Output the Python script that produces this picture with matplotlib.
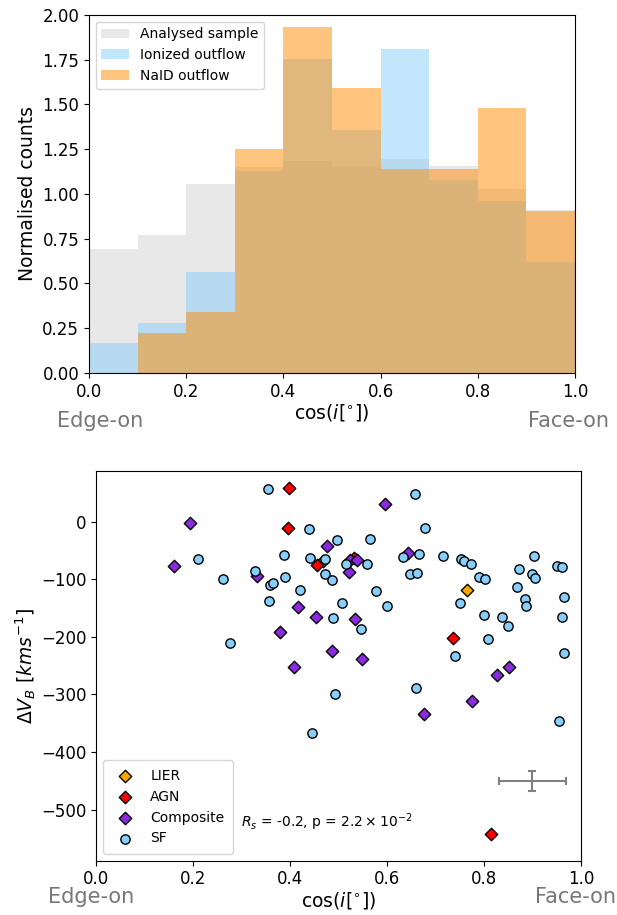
import matplotlib
matplotlib.use("Agg")
import matplotlib.pyplot as plt
from matplotlib.transforms import blended_transform_factory

# --- histogram data (normalised counts per cos(i) bin) ---
BIN_LEFT = [0.0, 0.1, 0.2, 0.3, 0.4, 0.5, 0.6, 0.7, 0.8, 0.9]
BIN_WIDTH = 0.1
SAMPLE_H = [0.69, 0.77, 1.057, 1.148, 1.185, 1.148, 1.196, 1.157, 1.028, 0.91]
IONIZED_H = [0.169, 0.28, 0.563, 1.13, 1.752, 1.357, 1.811, 1.076, 0.963, 0.62]
NAID_H = [0.0, 0.226, 0.341, 1.252, 1.933, 1.591, 1.137, 1.138, 1.481, 0.907]

# --- scatter data: cos(i) vs Delta V_B ---
LIER_X = [0.469, 0.764]
LIER_Y = [-68, -119]

AGN_X = [0.398, 0.396, 0.455, 0.532, 0.736, 0.814]
AGN_Y = [59, -10.5, -76, -63.4, -202, -542]

COMP_X = [0.194, 0.477, 0.161, 0.332, 0.417, 0.453, 0.380, 0.487, 0.595, 0.644,
          0.523, 0.538, 0.522, 0.534, 0.548, 0.409, 0.677, 0.775, 0.826, 0.851]
COMP_Y = [-3, -43, -76.7, -94.7, -149, -165, -192, -224, 31.4, -54,
          -65.7, -65.7, -87.8, -169, -238, -251.6, -334, -311, -266, -251.6]

SF_X = [0.355, 0.439, 0.497, 0.211, 0.387, 0.441, 0.473, 0.328, 0.261, 0.390,
        0.359, 0.365, 0.472, 0.487, 0.420, 0.356, 0.507, 0.488, 0.277, 0.658,
        0.678, 0.565, 0.633, 0.665, 0.716, 0.752, 0.758, 0.773, 0.903, 0.872,
        0.899, 0.905, 0.950, 0.961, 0.965, 0.789, 0.803, 0.868, 0.885, 0.887,
        0.750, 0.577, 0.600, 0.547, 0.515, 0.559, 0.648, 0.662, 0.801, 0.838,
        0.850, 0.961, 0.808, 0.740, 0.966, 0.492, 0.446, 0.660, 0.954]
SF_Y = [57.5, -12, -32.6, -64, -57.5, -62.8, -64, -85.4, -98.8, -95.8,
        -110, -105.7, -90.6, -101.7, -118.5, -138, -142, -167, -210, 47.6,
        -11.7, -29.6, -61, -55.7, -59, -64.5, -68, -74, -59, -83,
        -90, -97.6, -77.3, -77.9, -131, -96.5, -98.8, -114, -135, -147,
        -141, -121, -146, -186, -73, -73.8, -90.6, -89.5, -162, -165.5,
        -182, -165, -204.5, -233, -228, -299.7, -367.6, -289, -346]

# typical uncertainty
ERR_X, ERR_Y = 0.9, -450
ERR_DX, ERR_DY = 0.07, 17

GREY_TXT = "#777777"
LABEL_FS = 13.5

fig = plt.figure(figsize=(6.17, 9.15), dpi=100)

# ---------------- top: histograms ----------------
ax1 = fig.add_axes([0.1442, 0.5923, 0.7877, 0.3916])
ax1.bar(BIN_LEFT, SAMPLE_H, width=BIN_WIDTH, align="edge", color="lightgrey",
        alpha=0.5, linewidth=0, label="Analysed sample")
ax1.bar(BIN_LEFT, IONIZED_H, width=BIN_WIDTH, align="edge", color="lightskyblue",
        alpha=0.5, linewidth=0, label="Ionized outflow")
ax1.bar(BIN_LEFT, NAID_H, width=BIN_WIDTH, align="edge", color="darkorange",
        alpha=0.5, linewidth=0, label="NaID outflow")
ax1.set_xlim(0, 1)
ax1.set_ylim(0, 2.0)
ax1.set_yticks([0, 0.25, 0.5, 0.75, 1.0, 1.25, 1.5, 1.75, 2.0])
ax1.tick_params(labelsize=12)
ax1.set_ylabel("Normalised counts", fontsize=LABEL_FS)
ax1.set_xlabel(r"cos($i[^{\circ}]$)", fontsize=LABEL_FS, labelpad=1)
ax1.legend(loc="upper left", fontsize=10)
ax1.text(0.022, -0.135, "Edge-on", transform=ax1.transAxes, ha="center",
         va="center", fontsize=15, color=GREY_TXT)
ax1.text(0.986, -0.135, "Face-on", transform=ax1.transAxes, ha="center",
         va="center", fontsize=15, color=GREY_TXT)

# ---------------- bottom: scatter ----------------
ax2 = fig.add_axes([0.1556, 0.0593, 0.786, 0.4259])
ax2.scatter(LIER_X, LIER_Y, marker="D", s=40, c="orange", edgecolors="black",
            linewidths=1, label="LIER", zorder=3)
ax2.scatter(AGN_X, AGN_Y, marker="D", s=40, c="red", edgecolors="black",
            linewidths=1, label="AGN", zorder=3)
ax2.scatter(COMP_X, COMP_Y, marker="D", s=40, c="blueviolet", edgecolors="black",
            linewidths=1, label="Composite", zorder=3)
ax2.scatter(SF_X, SF_Y, marker="o", s=45, c="lightskyblue", edgecolors="black",
            linewidths=1, label="SF", zorder=3)
ax2.errorbar(ERR_X, ERR_Y, xerr=ERR_DX, yerr=ERR_DY, color="grey", capsize=3,
             elinewidth=1.5, capthick=1.5)
ax2.set_xlim(0, 1)
ax2.set_ylim(-589, 88)
ax2.tick_params(labelsize=12)
ax2.set_ylabel(r"$\Delta V_B\ [kms^{-1}]$", fontsize=LABEL_FS, labelpad=2)
ax2.set_xlabel(r"cos($i[^{\circ}]$)", fontsize=LABEL_FS, labelpad=1)
ax2.legend(loc="lower left", fontsize=10, borderpad=0.6)
ax2.text(0.30, -531, r"$R_s$ = -0.2, p = $2.2 \times 10^{-2}$", fontsize=10)
ax2.text(-0.01, -0.093, "Edge-on", transform=ax2.transAxes, ha="center",
         va="center", fontsize=15, color=GREY_TXT)
fig_x_ax_y = blended_transform_factory(fig.transFigure, ax2.transAxes)
ax2.text(0.9985, -0.093, "Face-on", transform=fig_x_ax_y, ha="right",
         va="center", fontsize=15, color=GREY_TXT)

fig.savefig("out.png", dpi=100)
